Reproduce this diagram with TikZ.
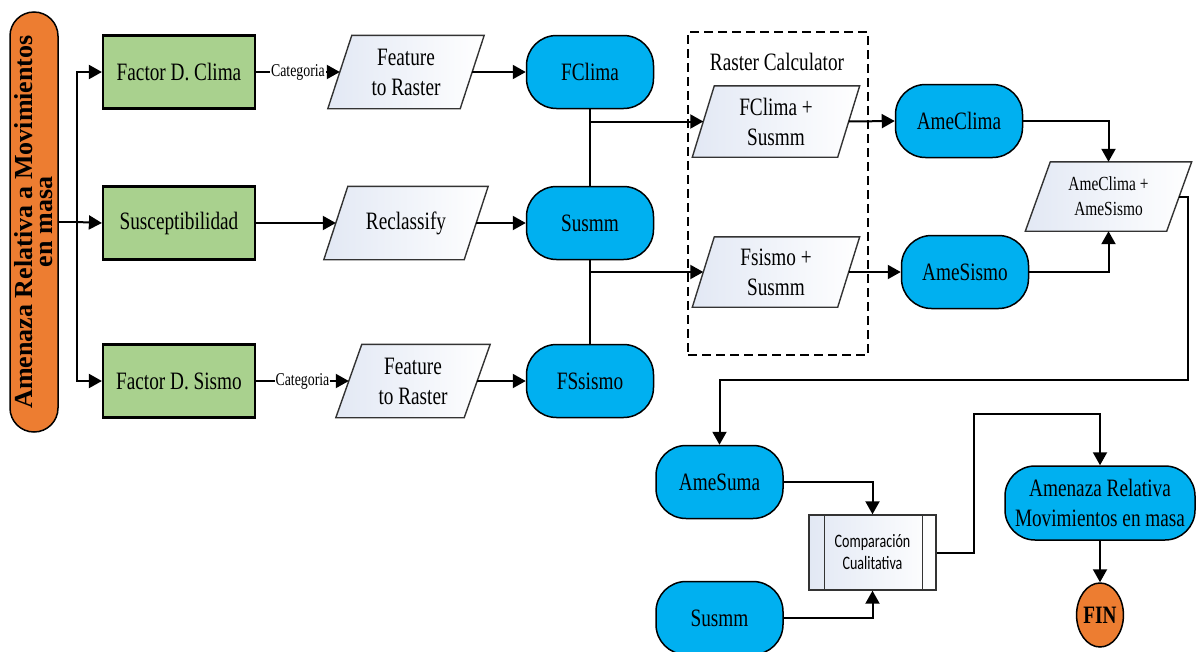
\documentclass[tikz,border=0pt]{standalone}
\usepackage{fontspec}
\setmainfont{Liberation Serif}[FakeStretch=0.77]
\newfontfamily\wideserif{Liberation Serif}
\newfontfamily\calib{Carlito}[FakeStretch=0.74]
\usetikzlibrary{arrows.meta,calc,backgrounds,shapes.geometric}
\definecolor{orng}{HTML}{ED7D31}
\definecolor{grn}{HTML}{A9D18E}
\definecolor{blu}{HTML}{00B0F0}
\definecolor{paral}{RGB}{226,232,244}
\tikzset{
  conn/.style={line width=2pt, draw=black},
  arr/.style={conn, -{Triangle[length=13pt,width=14pt]}},
  greenbox/.style={rectangle, draw=black, line width=2.2pt, fill=grn, minimum width=152pt, minimum height=73pt, inner sep=0pt, font=\fontsize{25}{28}\selectfont},
  bluebox/.style={rectangle, rounded corners=30pt, draw=black, line width=1.5pt, fill=blu, minimum width=127pt, minimum height=73pt, inner sep=0pt, align=center, font=\fontsize{25}{30}\selectfont},
  paratext/.style={rectangle, minimum width=#1, minimum height=72pt, inner sep=0pt, align=center, font=\fontsize{25}{30}\selectfont},
  parashape/.style={draw=black!80, line width=1.4pt, left color=paral, right color=white},
  lbl/.style={fill=white, inner sep=1pt, font=\fontsize{18}{18}\selectfont},
}
\newcommand\drawpara[2]{%
  \begin{pgfonlayer}{background}
    \path[parashape] ($(#1.north west)+(#2/2,0)$) -- ($(#1.north east)+(#2/2,0)$) -- ($(#1.south east)-(#2/2,0)$) -- ($(#1.south west)-(#2/2,0)$) -- cycle;
  \end{pgfonlayer}}
\begin{document}
\begin{tikzpicture}[x=1pt,y=-1pt]
\useasboundingbox (0,0) rectangle (1196,651);
% start node
\node[rectangle, rounded corners=24pt, draw=black, line width=1.5pt, fill=orng, rotate=90,
  minimum width=420pt, minimum height=48pt, inner sep=0pt, align=center,
  font=\wideserif\bfseries\fontsize{26}{20}\selectfont] (start) at (34,222) {Amenaza Relativa a Movimientos\\en masa};
% green boxes
\node[greenbox] (gc) at (179,72) {Factor D. Clima};
\node[greenbox] (gs) at (179,223) {Susceptibilidad};
\node[greenbox] (gsi) at (179,381) {Factor D. Sismo};
% parallelograms left
\node[paratext=132pt, minimum height=73pt] (p1) at (406,72) {Feature\\to Raster};
\drawpara{p1}{24}
\node[paratext=140pt, minimum height=73pt] (p2) at (406,223) {Reclassify};
\drawpara{p2}{24}
\node[paratext=128pt, minimum height=73pt] (p3) at (413,381) {Feature\\to Raster};
\drawpara{p3}{26}
% blue nodes
\node[bluebox] (fclima) at (590,72) {FClima};
\node[bluebox] (susmm) at (590,223) {Susmm};
\node[bluebox] (fssismo) at (590,381) {FSsismo};
% raster calculator
\node[draw=black, dash pattern=on 9pt off 5pt, line width=1.3pt, minimum width=180pt, minimum height=323pt, inner sep=0pt] (rc) at (778,193.5) {};
\node[font=\fontsize{25}{28}\selectfont] (rclbl) at (777,62) {Raster Calculator};
\node[paratext=145pt, minimum height=71pt] (r1) at (776,121.5) {FClima +\\Susmm};
\drawpara{r1}{22}
\node[paratext=145pt, minimum height=70pt] (r2) at (776,272) {Fsismo +\\Susmm};
\drawpara{r2}{22}
\node[bluebox] (ameclima) at (959,121) {AmeClima};
\node[bluebox] (amesismo) at (965,272) {AmeSismo};
\node[paratext=141pt, minimum height=69pt, font=\fontsize{20}{25}\selectfont] (psum) at (1108.5,196.5) {AmeClima +\\AmeSismo};
\drawpara{psum}{25}
% bottom part
\node[bluebox] (amesuma) at (719.5,482) {AmeSuma};
\node[bluebox] (susmm2) at (719.5,618) {Susmm};
\node[rectangle, draw=black!80, line width=1.4pt, left color=paral, right color=white, minimum width=127pt, minimum height=75pt, inner sep=0pt, align=center, font=\calib\fontsize{19}{22}\selectfont] (comp) at (872.5,552.5) {Comparación\\Cualitativa};
\draw[line width=1.4pt, draw=black!80] ($(comp.north west)+(16,0)$) -- ($(comp.south west)+(16,0)$);
\draw[line width=1.4pt, draw=black!80] ($(comp.north east)-(14,0)$) -- ($(comp.south east)-(14,0)$);
\node[bluebox, minimum width=190pt, minimum height=74pt] (amen) at (1100,503) {Amenaza Relativa\\Movimientos en masa};
\node[ellipse, draw=black, line width=1.5pt, fill=orng, minimum width=45pt, minimum height=64pt, inner sep=0pt, font=\bfseries\fontsize{25}{28}\selectfont] (fin) at (1100,615) {FIN};
% connectors
\coordinate (jn) at (77,222);
\draw[conn] (start) -- (jn);
\draw[arr] (jn) -- (gs.west);
\draw[arr] (jn) |- (gc.west);
\draw[arr] (jn) |- (gsi.west);
\draw[arr] (gc.east) -- node[lbl] {Categoria} (p1.west);
\draw[arr] (gs.east) -- (p2.west);
\draw[arr] (gsi.east) -- node[lbl] {Categoria} (p3.west);
\draw[arr] (p1.east) -- (fclima.west);
\draw[arr] (p2.east) -- (susmm.west);
\draw[arr] (p3.east) -- (fssismo.west);
\draw[conn] (fclima.south) -- (susmm.north);
\draw[conn] (susmm.south) -- (fssismo.north);
\draw[arr] (fclima.south |- r1.west) -- (r1.west);
\draw[arr] (susmm.south |- r2.west) -- (r2.west);
\draw[arr] (r1.east) -- (ameclima.west);
\draw[arr] (r2.east) -- (amesismo.west);
\draw[arr] (ameclima.east) -| (psum.north);
\draw[arr] (amesismo.east) -| (psum.south);
\coordinate (c1) at (1188,380);
\draw[arr] (psum.east) -| (c1) -| (amesuma.north);
\draw[arr] (amesuma.east) -| (comp.north);
\draw[arr] (susmm2.east) -| (comp.south);
\coordinate (c2) at (974,414);
\draw[arr] (comp.east) -| (c2) -| (amen.north);
\draw[arr] (amen.south) -- (fin.north);
\end{tikzpicture}
\end{document}
